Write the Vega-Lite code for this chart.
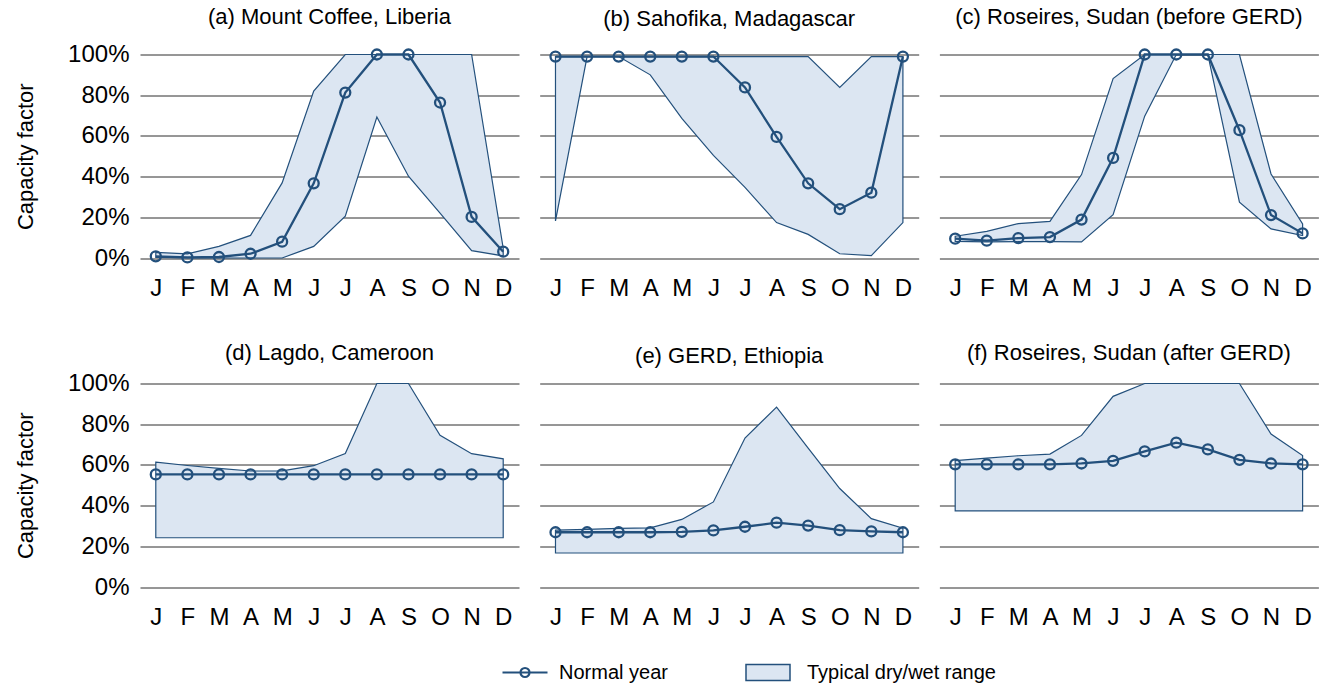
{
  "$schema": "https://vega.github.io/schema/vega-lite/v6.json",
  "background": "white",
  "padding": {"left": 14, "top": 5.5, "right": 5, "bottom": 5},
  "datasets": {
    "cf": [
      {"t": "(a) Mount Coffee, Liberia", "m": 1, "n": 0.008, "lo": 0.003, "hi": 0.028},
      {"t": "(a) Mount Coffee, Liberia", "m": 2, "n": 0.003, "lo": 0.0, "hi": 0.02},
      {"t": "(a) Mount Coffee, Liberia", "m": 3, "n": 0.005, "lo": 0.0, "hi": 0.057},
      {"t": "(a) Mount Coffee, Liberia", "m": 4, "n": 0.021, "lo": 0.0, "hi": 0.111},
      {"t": "(a) Mount Coffee, Liberia", "m": 5, "n": 0.08, "lo": 0.0, "hi": 0.369},
      {"t": "(a) Mount Coffee, Liberia", "m": 6, "n": 0.367, "lo": 0.057, "hi": 0.82},
      {"t": "(a) Mount Coffee, Liberia", "m": 7, "n": 0.813, "lo": 0.205, "hi": 1.0},
      {"t": "(a) Mount Coffee, Liberia", "m": 8, "n": 1.0, "lo": 0.693, "hi": 1.0},
      {"t": "(a) Mount Coffee, Liberia", "m": 9, "n": 1.0, "lo": 0.402, "hi": 1.0},
      {"t": "(a) Mount Coffee, Liberia", "m": 10, "n": 0.764, "lo": 0.221, "hi": 1.0},
      {"t": "(a) Mount Coffee, Liberia", "m": 11, "n": 0.202, "lo": 0.036, "hi": 1.0},
      {"t": "(a) Mount Coffee, Liberia", "m": 12, "n": 0.031, "lo": 0.01, "hi": 0.048},
      {"t": "(b) Sahofika, Madagascar", "m": 1, "n": 0.99, "lo": 0.182, "hi": 0.99},
      {"t": "(b) Sahofika, Madagascar", "m": 2, "n": 0.99, "lo": 0.99, "hi": 0.99},
      {"t": "(b) Sahofika, Madagascar", "m": 3, "n": 0.99, "lo": 0.99, "hi": 0.99},
      {"t": "(b) Sahofika, Madagascar", "m": 4, "n": 0.99, "lo": 0.9, "hi": 0.99},
      {"t": "(b) Sahofika, Madagascar", "m": 5, "n": 0.99, "lo": 0.686, "hi": 0.99},
      {"t": "(b) Sahofika, Madagascar", "m": 6, "n": 0.99, "lo": 0.504, "hi": 0.99},
      {"t": "(b) Sahofika, Madagascar", "m": 7, "n": 0.838, "lo": 0.347, "hi": 0.99},
      {"t": "(b) Sahofika, Madagascar", "m": 8, "n": 0.595, "lo": 0.174, "hi": 0.99},
      {"t": "(b) Sahofika, Madagascar", "m": 9, "n": 0.367, "lo": 0.116, "hi": 0.99},
      {"t": "(b) Sahofika, Madagascar", "m": 10, "n": 0.24, "lo": 0.021, "hi": 0.838},
      {"t": "(b) Sahofika, Madagascar", "m": 11, "n": 0.321, "lo": 0.012, "hi": 0.99},
      {"t": "(b) Sahofika, Madagascar", "m": 12, "n": 0.99, "lo": 0.174, "hi": 0.99},
      {"t": "(c) Roseires, Sudan (before GERD)", "m": 1, "n": 0.095, "lo": 0.082, "hi": 0.107},
      {"t": "(c) Roseires, Sudan (before GERD)", "m": 2, "n": 0.085, "lo": 0.079, "hi": 0.131},
      {"t": "(c) Roseires, Sudan (before GERD)", "m": 3, "n": 0.098, "lo": 0.08, "hi": 0.169},
      {"t": "(c) Roseires, Sudan (before GERD)", "m": 4, "n": 0.103, "lo": 0.08, "hi": 0.18},
      {"t": "(c) Roseires, Sudan (before GERD)", "m": 5, "n": 0.189, "lo": 0.079, "hi": 0.41},
      {"t": "(c) Roseires, Sudan (before GERD)", "m": 6, "n": 0.492, "lo": 0.213, "hi": 0.882},
      {"t": "(c) Roseires, Sudan (before GERD)", "m": 7, "n": 1.0, "lo": 0.697, "hi": 1.0},
      {"t": "(c) Roseires, Sudan (before GERD)", "m": 8, "n": 1.0, "lo": 1.0, "hi": 1.0},
      {"t": "(c) Roseires, Sudan (before GERD)", "m": 9, "n": 1.0, "lo": 1.0, "hi": 1.0},
      {"t": "(c) Roseires, Sudan (before GERD)", "m": 10, "n": 0.628, "lo": 0.274, "hi": 1.0},
      {"t": "(c) Roseires, Sudan (before GERD)", "m": 11, "n": 0.211, "lo": 0.143, "hi": 0.413},
      {"t": "(c) Roseires, Sudan (before GERD)", "m": 12, "n": 0.121, "lo": 0.11, "hi": 0.168},
      {"t": "(d) Lagdo, Cameroon", "m": 1, "n": 0.553, "lo": 0.242, "hi": 0.614},
      {"t": "(d) Lagdo, Cameroon", "m": 2, "n": 0.553, "lo": 0.242, "hi": 0.597},
      {"t": "(d) Lagdo, Cameroon", "m": 3, "n": 0.553, "lo": 0.242, "hi": 0.583},
      {"t": "(d) Lagdo, Cameroon", "m": 4, "n": 0.553, "lo": 0.242, "hi": 0.57},
      {"t": "(d) Lagdo, Cameroon", "m": 5, "n": 0.553, "lo": 0.242, "hi": 0.571},
      {"t": "(d) Lagdo, Cameroon", "m": 6, "n": 0.553, "lo": 0.242, "hi": 0.596},
      {"t": "(d) Lagdo, Cameroon", "m": 7, "n": 0.553, "lo": 0.242, "hi": 0.656},
      {"t": "(d) Lagdo, Cameroon", "m": 8, "n": 0.553, "lo": 0.242, "hi": 1.0},
      {"t": "(d) Lagdo, Cameroon", "m": 9, "n": 0.553, "lo": 0.242, "hi": 1.0},
      {"t": "(d) Lagdo, Cameroon", "m": 10, "n": 0.553, "lo": 0.242, "hi": 0.745},
      {"t": "(d) Lagdo, Cameroon", "m": 11, "n": 0.553, "lo": 0.242, "hi": 0.655},
      {"t": "(d) Lagdo, Cameroon", "m": 12, "n": 0.553, "lo": 0.242, "hi": 0.63},
      {"t": "(e) GERD, Ethiopia", "m": 1, "n": 0.269, "lo": 0.167, "hi": 0.279},
      {"t": "(e) GERD, Ethiopia", "m": 2, "n": 0.269, "lo": 0.167, "hi": 0.283},
      {"t": "(e) GERD, Ethiopia", "m": 3, "n": 0.269, "lo": 0.167, "hi": 0.288},
      {"t": "(e) GERD, Ethiopia", "m": 4, "n": 0.269, "lo": 0.167, "hi": 0.291},
      {"t": "(e) GERD, Ethiopia", "m": 5, "n": 0.271, "lo": 0.167, "hi": 0.332},
      {"t": "(e) GERD, Ethiopia", "m": 6, "n": 0.278, "lo": 0.167, "hi": 0.418},
      {"t": "(e) GERD, Ethiopia", "m": 7, "n": 0.296, "lo": 0.167, "hi": 0.732},
      {"t": "(e) GERD, Ethiopia", "m": 8, "n": 0.316, "lo": 0.167, "hi": 0.884},
      {"t": "(e) GERD, Ethiopia", "m": 9, "n": 0.302, "lo": 0.167, "hi": 0.683},
      {"t": "(e) GERD, Ethiopia", "m": 10, "n": 0.279, "lo": 0.167, "hi": 0.484},
      {"t": "(e) GERD, Ethiopia", "m": 11, "n": 0.273, "lo": 0.167, "hi": 0.336},
      {"t": "(e) GERD, Ethiopia", "m": 12, "n": 0.269, "lo": 0.167, "hi": 0.289},
      {"t": "(f) Roseires, Sudan (after GERD)", "m": 1, "n": 0.603, "lo": 0.374, "hi": 0.621},
      {"t": "(f) Roseires, Sudan (after GERD)", "m": 2, "n": 0.603, "lo": 0.374, "hi": 0.633},
      {"t": "(f) Roseires, Sudan (after GERD)", "m": 3, "n": 0.603, "lo": 0.374, "hi": 0.645},
      {"t": "(f) Roseires, Sudan (after GERD)", "m": 4, "n": 0.603, "lo": 0.374, "hi": 0.653},
      {"t": "(f) Roseires, Sudan (after GERD)", "m": 5, "n": 0.607, "lo": 0.374, "hi": 0.745},
      {"t": "(f) Roseires, Sudan (after GERD)", "m": 6, "n": 0.62, "lo": 0.374, "hi": 0.937},
      {"t": "(f) Roseires, Sudan (after GERD)", "m": 7, "n": 0.666, "lo": 0.374, "hi": 1.0},
      {"t": "(f) Roseires, Sudan (after GERD)", "m": 8, "n": 0.709, "lo": 0.374, "hi": 1.0},
      {"t": "(f) Roseires, Sudan (after GERD)", "m": 9, "n": 0.676, "lo": 0.374, "hi": 1.0},
      {"t": "(f) Roseires, Sudan (after GERD)", "m": 10, "n": 0.625, "lo": 0.374, "hi": 1.0},
      {"t": "(f) Roseires, Sudan (after GERD)", "m": 11, "n": 0.607, "lo": 0.374, "hi": 0.752},
      {"t": "(f) Roseires, Sudan (after GERD)", "m": 12, "n": 0.603, "lo": 0.374, "hi": 0.646}
    ]
  },
  "data": {"name": "cf"},
  "config": {
    "font": "Liberation Sans",
    "view": {"stroke": null},
    "axis": {"domain": false, "ticks": false, "labelColor": "#000", "titleColor": "#000", "labelFont": "Liberation Sans", "titleFont": "Liberation Sans"},
    "axisX": {"grid": false, "labelFontSize": 24, "labelPadding": 18, "labelAngle": 0},
    "axisY": {"labelFontSize": 24, "labelPadding": 11, "gridColor": "#2e2e2e", "gridWidth": 1, "gridOpacity": 1, "titleFontSize": 22, "titleFontWeight": "normal", "titlePadding": 30},
    "legend": {"labelFontSize": 20, "labelColor": "#000", "labelFont": "Liberation Sans", "labelLimit": 0}
  },
  "columns": 3,
  "spacing": {"row": 41, "column": 20.7},
  "facet": {
    "field": "t", "type": "nominal", "title": null,
    "header": {"title": null, "labelFontSize": 22, "labelFont": "Liberation Sans", "labelColor": "#000", "labelPadding": 16}
  },
  "resolve": {"axis": {"x": "independent"}},
  "spec": {
    "width": 379, "height": 203.5,
    "encoding": {"x": {"field": "m", "type": "ordinal", "title": null, "scale": {"type": "point", "padding": 0.5}, "axis": {"labelExpr": "['J','F','M','A','M','J','J','A','S','O','N','D'][datum.value - 1]"}}},
    "layer": [
      {"mark": {"type": "area", "stroke": "#23507c", "strokeWidth": 1.2},
       "encoding": {
         "y": {"field": "hi", "type": "quantitative", "title": "Capacity factor", "scale": {"domain": [0, 1], "nice": false}, "axis": {"format": ".0%", "values": [0, 0.2, 0.4, 0.6, 0.8, 1]}},
         "y2": {"field": "lo"},
         "fill": {"datum": "Typical dry/wet range", "scale": {"range": ["#dce6f2"]}, "legend": {"title": null, "orient": "none", "legendX": 618, "legendY": 608, "symbolType": "M-4.4,-1.6H4.4V1.6H-4.4Z", "symbolSize": 100, "symbolStrokeColor": "#23507c", "symbolStrokeWidth": 1.5, "labelOffset": 29, "labelLimit": 0}}
       }},
      {"mark": {"type": "line", "stroke": "#23507c", "strokeWidth": 2.3, "point": {"filled": false, "size": 100, "strokeWidth": 2.3}},
       "encoding": {
         "y": {"field": "n", "type": "quantitative", "title": "Capacity factor", "axis": {"format": ".0%", "values": [0, 0.2, 0.4, 0.6, 0.8, 1]}},
         "stroke": {"datum": "Normal year", "scale": {"range": ["#23507c"]}, "legend": {"title": null, "orient": "none", "legendX": 375, "legendY": 608, "symbolType": "M-4.5,0H4.5M-0.9,0A0.9,0.9 0 1,1 0.9,0A0.9,0.9 0 1,1 -0.9,0", "symbolSize": 100, "symbolStrokeWidth": 2.2, "symbolFillColor": "transparent", "labelOffset": 24}}
       }}
    ]
  }
}
